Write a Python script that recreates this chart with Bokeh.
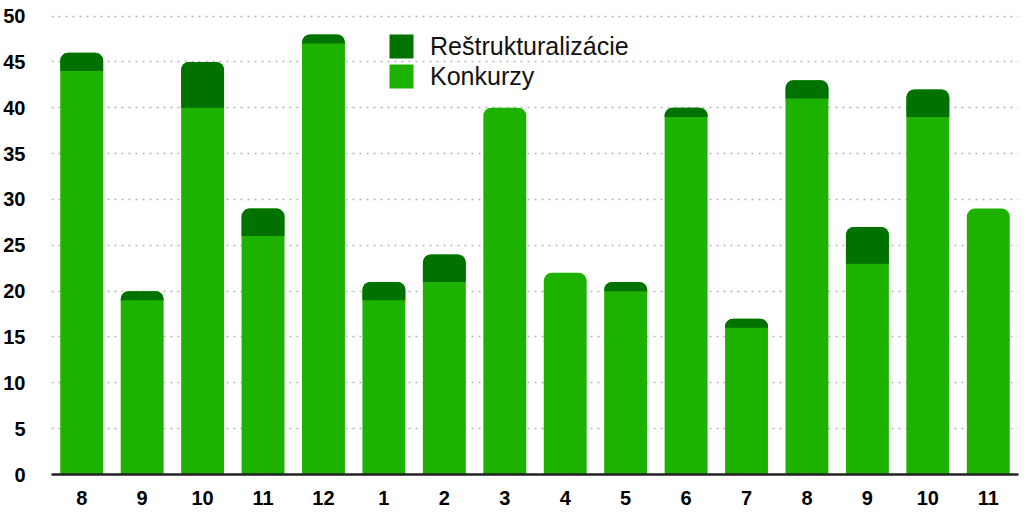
from bokeh.plotting import figure
from bokeh.models import FixedTicker, Legend, LegendItem, Range1d
from bokeh.embed import file_html
from bokeh.resources import INLINE

months = ["8", "9", "10", "11", "12", "1", "2", "3", "4", "5", "6", "7", "8", "9", "10", "11"]
konkurzy = [44, 19, 40, 26, 47, 19, 21, 40, 22, 20, 39, 16, 41, 23, 39, 29]
restrukturalizacie = [2, 1, 5, 3, 1, 2, 3, 0, 0, 1, 1, 1, 2, 4, 3, 0]
y_ticks = [0, 5, 10, 15, 20, 25, 30, 35, 40, 45, 50]

LIGHT = "#1db100"
DARK = "#017100"
FONT = "Liberation Sans"

xs = list(range(len(months)))
totals = [k + r for k, r in zip(konkurzy, restrukturalizacie)]

p = figure(frame_width=967, frame_height=463, output_backend="svg", toolbar_location=None,
           x_range=Range1d(-0.5, len(months) - 0.5), y_range=Range1d(0, 50.5),
           min_border_left=47, min_border_right=6, min_border_top=11, min_border_bottom=33)
p.outline_line_color = None
p.background_fill_color = "white"
p.border_fill_color = "white"

# grid
p.xgrid.grid_line_color = None
p.ygrid.ticker = FixedTicker(ticks=y_ticks)
p.ygrid.grid_line_color = "#b4b4b4"
p.ygrid.grid_line_dash = "2 5"
p.ygrid.grid_line_width = 1.5

# axes
p.xaxis.ticker = FixedTicker(ticks=xs)
p.xaxis.major_label_overrides = {i: m for i, m in enumerate(months)}
p.xaxis.axis_line_color = "#222222"
p.xaxis.axis_line_width = 2.5
p.xaxis.major_tick_line_color = None
p.xaxis.minor_tick_line_color = None
p.xaxis.major_label_standoff = 10
p.xaxis.major_label_text_font = FONT
p.xaxis.major_label_text_font_style = "bold"
p.xaxis.major_label_text_font_size = "20px"
p.xaxis.major_label_text_color = "black"

p.yaxis.ticker = FixedTicker(ticks=y_ticks)
p.yaxis.axis_line_color = None
p.yaxis.major_tick_line_color = None
p.yaxis.minor_tick_line_color = None
p.yaxis.major_label_standoff = 20
p.yaxis.major_label_text_font = FONT
p.yaxis.major_label_text_font_style = "bold"
p.yaxis.major_label_text_font_size = "20px"
p.yaxis.major_label_text_color = "black"

# bars: light bar to total with rounded top, dark segment on top
r_k = p.vbar(x=xs, bottom=0, top=totals, width=0.71, fill_color=LIGHT, line_color=None,
             border_radius=(8, 8, 0, 0))
r_r = p.vbar(x=xs, bottom=konkurzy, top=totals, width=0.71, fill_color=DARK, line_color=None,
             border_radius=(8, 8, 0, 0))

legend = Legend(items=[LegendItem(label="Reštrukturalizácie", renderers=[r_r]),
                       LegendItem(label="Konkurzy", renderers=[r_k])],
                location=(335, 383), orientation="vertical",
                glyph_width=30, glyph_height=30, label_height=30, spacing=0,
                padding=0, margin=0, label_standoff=14,
                label_text_font=FONT, label_text_font_size="25px",
                label_text_color="#111111",
                border_line_color=None, background_fill_alpha=0)
p.add_layout(legend)

open("out.html", "w").write(file_html(p, INLINE))
